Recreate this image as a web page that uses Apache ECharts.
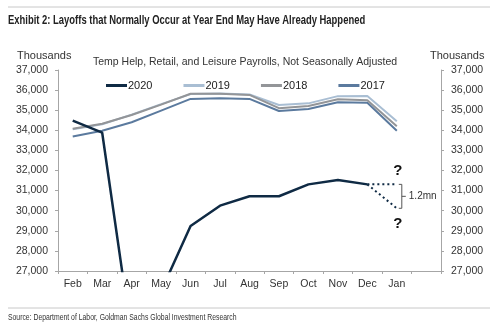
<!DOCTYPE html>
<html>
<head>
<meta charset="utf-8">
<script src="https://cdn.jsdelivr.net/npm/echarts@6/dist/echarts.min.js"></script>
<style>html,body{margin:0;padding:0;background:#fff}#c{width:500px;height:328px}</style>
</head>
<body>
<div id="c"></div>
<script>
var months = ['Feb','Mar','Apr','May','Jun','Jul','Aug','Sep','Oct','Nov','Dec','Jan',''];
var s2020 = [34480, 33880, 23700, 26000, 29240, 30250, 30720, 30720, 31310, 31530, 31310, null, null];
var s2019 = [34050, 34300, 34780, 35300, 35800, 35830, 35780, 35260, 35340, 35700, 35710, 34450, null];
var s2018 = [34080, 34330, 34760, 35280, 35820, 35820, 35760, 35100, 35210, 35540, 35500, 34200, null];
var s2017 = [33690, 33980, 34400, 34980, 35560, 35600, 35560, 34960, 35060, 35400, 35370, 33980, null];
var dotFlat = [null, null, null, null, null, null, null, null, null, null, 31310, 31310, null];
var dotDown = [null, null, null, null, null, null, null, null, null, null, 31310, 30120, null];
var bracket = [[11, 31310, 30120]];
var bracketLabel = '1.2mn';
var yTicks = {min: 27000, max: 37000, interval: 1000};

var FONT = 'Liberation Sans, Arial, sans-serif';
var NAVY = '#0f2a44';

var chart = echarts.init(document.getElementById('c'));
function fmt(v){ return v.toString().replace(/\B(?=(\d{3})+(?!\d))/g, ','); }
var yAxisBase = {
  type: 'value', min: yTicks.min, max: yTicks.max, interval: yTicks.interval,
  axisLine: {show: true, lineStyle: {color: '#a6a6a6', width: 1}},
  axisTick: {show: true, length: 3, lineStyle: {color: '#a6a6a6'}},
  splitLine: {show: false},
  axisLabel: {formatter: fmt, color: '#333', fontFamily: FONT, fontSize: 10.5, margin: 10}
};
chart.setOption({
  animation: false,
  grid: {left: 58, right: 59, top: 70, bottom: 57},
  legend: {
    top: 75, left: 101, itemWidth: 21, itemHeight: 3, icon: 'rect', itemGap: 31,
    textStyle: {fontFamily: FONT, fontSize: 11, color: '#222', padding: [0,0,0,-4]},
    data: ['2020','2019','2018','2017']
  },
  xAxis: {
    type: 'category', data: months, boundaryGap: true,
    axisLine: {lineStyle: {color: '#a6a6a6'}},
    axisTick: {show: true, length: 3, lineStyle: {color: '#a6a6a6'}},
    axisLabel: {interval: 0, color: '#333', fontFamily: FONT, fontSize: 10.5, margin: 8}
  },
  yAxis: [
    Object.assign({}, yAxisBase, {position: 'left'}),
    Object.assign({}, yAxisBase, {position: 'right'})
  ],
  graphic: [
    {type: 'line', shape: {x1: 8, y1: 7, x2: 490, y2: 7}, style: {stroke: '#c8c8c8', lineWidth: 1}},
    {type: 'text', x: 8, y: 14, scaleX: 0.755, style: {text: 'Exhibit 2: Layoffs that Normally Occur at Year End May Have Already Happened', font: 'bold 12.5px ' + FONT, fill: '#222'}},
    {type: 'text', left: 17, top: 50, style: {text: 'Thousands', font: '11px ' + FONT, fill: '#333'}},
    {type: 'text', left: 430, top: 50, style: {text: 'Thousands', font: '11px ' + FONT, fill: '#333'}},
    {type: 'text', left: 93, top: 57, style: {text: 'Temp Help, Retail, and Leisure Payrolls, Not Seasonally Adjusted', font: '10.5px ' + FONT, fill: '#333'}},
    {type: 'line', shape: {x1: 8, y1: 308, x2: 490, y2: 308}, style: {stroke: '#c8c8c8', lineWidth: 1}},
    {type: 'text', x: 8, y: 312, scaleX: 0.72, style: {text: 'Source: Department of Labor, Goldman Sachs Global Investment Research', font: '9.5px ' + FONT, fill: '#333'}}
  ],
  series: [
    {name: '2017', type: 'line', data: s2017, symbol: 'none', lineStyle: {color: '#5b7a9e', width: 2}, itemStyle: {color: '#5b7a9e'}, z: 2},
    {name: '2018', type: 'line', data: s2018, symbol: 'none', lineStyle: {color: '#939598', width: 2}, itemStyle: {color: '#939598'}, z: 3},
    {name: '2019', type: 'line', data: s2019, symbol: 'none', lineStyle: {color: '#a9bed3', width: 2}, itemStyle: {color: '#a9bed3'}, z: 2},
    {name: '2020', type: 'line', data: s2020, symbol: 'none', lineStyle: {color: NAVY, width: 2.5}, itemStyle: {color: NAVY}, z: 5},
    {name: 'flat', type: 'line', data: dotFlat, symbol: 'none', lineStyle: {color: NAVY, width: 2, type: [2, 3]}, z: 4},
    {name: 'down', type: 'line', data: dotDown, symbol: 'none', lineStyle: {color: NAVY, width: 2, type: [2, 3]}, z: 4},
    {
      name: 'bracket', type: 'custom', data: bracket, z: 6,
      renderItem: function(params, api){
        var top = api.coord([api.value(0), api.value(1)]);
        var bot = api.coord([api.value(0), api.value(2)]);
        var bx = top[0] + 5, mid = (top[1] + bot[1]) / 2;
        return {type: 'group', children: [
          {type: 'polyline', shape: {points: [[bx-3, top[1]], [bx, top[1]], [bx, bot[1]], [bx-3, bot[1]]]}, style: {stroke: '#555', lineWidth: 1, fill: null}},
          {type: 'line', shape: {x1: bx, y1: mid, x2: bx+4, y2: mid}, style: {stroke: '#555', lineWidth: 1}},
          {type: 'text', x: bx + 7, y: mid, style: {text: bracketLabel, font: '10px ' + FONT, fill: '#333', verticalAlign: 'middle'}},
          {type: 'text', x: top[0] + 1, y: top[1] - 14, style: {text: '?', font: 'bold 15px ' + FONT, fill: '#111', align: 'center', verticalAlign: 'middle'}},
          {type: 'text', x: top[0] + 1, y: bot[1] + 16, style: {text: '?', font: 'bold 15px ' + FONT, fill: '#111', align: 'center', verticalAlign: 'middle'}}
        ]};
      }
    }
  ]
});
</script>
</body>
</html>
